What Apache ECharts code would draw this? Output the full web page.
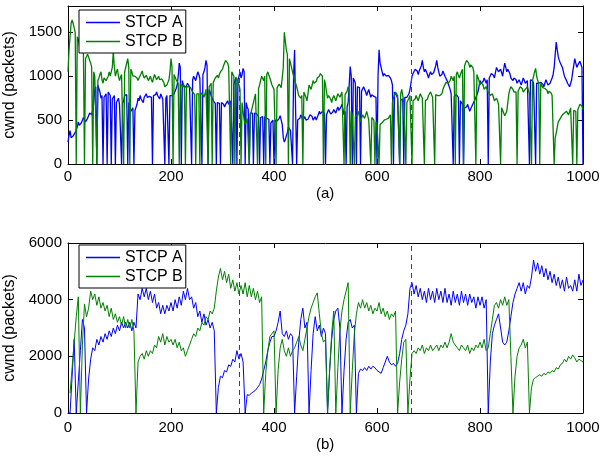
<!DOCTYPE html>
<html>
<head>
<meta charset="utf-8">
<script src="https://cdn.jsdelivr.net/npm/echarts@6/dist/echarts.min.js"></script>
<style>
html, body { margin: 0; padding: 0; background: #fff; }
#chart { width: 602px; height: 456px; }
</style>
</head>
<body>
<div id="chart"></div>
<script>
// sample spacing in time units: (a) every 2, (b) every 4, x = 0..1000
var stepTop = 2;
var stepBot = 4;
var names = ['STCP A', 'STCP B'];
var dashX = [333, 666];

// (a) cwnd, packets
var topA = [
  250,330,380,300,280,320,300,360,350,420, 480,440,420,470,480,530,520,480,500,520,
  540,580,600,560,620,700,850,880,0,900, 900,820,750,780,0,760,780,800,0,820,
  800,780,0,740,760,780,0,700,720,750, 680,700,0,690,720,780,800,790,0,700,
  650,600,620,640,0,610,600,680,750,720, 780,740,720,700,760,780,800,760,740,770,
  780,760,0,780,760,790,820,780,760,740, 800,770,740,760,0,750,780,790,0,780,
  800,780,760,800,820,860,900,1000,1150,1100, 0,950,900,870,850,890,920,900,880,900,
  0,960,1000,980,950,1000,1050,1020,980,1000, 0,1020,1050,1100,1180,1120,0,850,820,780,
  760,720,700,690,0,700,680,690,0,700, 720,680,650,680,700,720,680,700,720,700,
  0,900,950,980,0,960,1000,1050,980,1020, 1090,1050,0,700,650,620,0,580,600,580,
  0,580,600,570,550,540,0,530,520,540, 0,540,560,520,500,510,0,470,480,500,
  0,500,520,490,480,520,550,500,450,300, 250,280,300,360,420,400,380,400,0,1000,
  1300,600,0,500,480,520,560,530,500,520, 540,500,480,510,520,560,580,540,500,520,
  540,500,480,560,600,570,550,600,620,580, 0,560,580,620,600,570,550,590,620,600,
  580,620,650,610,600,650,680,620,560,600, 0,650,700,900,1110,1000,0,980,950,920,
  0,880,900,870,0,830,850,880,900,820, 780,820,850,800,760,790,800,770,780,760,
  0,1000,1300,1150,1100,1050,1000,1030,1050,1000, 980,1010,1020,980,950,900,0,820,800,780,
  750,740,0,730,720,740,0,760,780,760, 750,800,850,920,1000,1030,1050,1080,1100,1060,
  1020,1060,1080,1120,1180,1100,1050,1080,1100,1020, 980,1020,1050,1020,1000,1040,1080,1120,1180,1100,
  1050,1000,980,1020,1060,1030,1000,980,950,920, 900,850,800,780,0,770,760,790,780,760,
  0,720,700,680,0,640,620,650,680,640, 600,630,650,680,700,730,760,790,820,880,
  950,920,900,940,980,950,920,960,0,980, 1000,1030,1050,1010,980,1040,1100,1080,1050,1060,
  1080,1040,1000,1080,1150,1100,1050,1080,1100,1030, 980,960,950,980,1000,960,920,940,960,930,
  900,940,980,950,920,940,950,960,0,960, 980,950,920,930,0,920,940,920,900,930,
  950,910,880,920,960,930,900,910,920,950, 980,1020,1100,1250,1390,1300,1220,1180,1150,1130,
  1100,1050,1000,980,950,920,900,880,880,960, 1050,1120,1200,1150,1100,1130,1150,1170,1150,1100,
  0
];
var topB = [
  1050,1300,1450,1600,1640,1600,1580,1500,0,1450, 1420,1350,1280,1300,1320,1250,0,1200,1180,1250,
  1220,1180,1150,1100,0,1050,1000,980,0,950, 980,1020,1050,960,920,980,1000,950,960,1000,
  1050,1000,980,1100,1280,1100,1000,1050,1080,1000, 950,990,1020,1000,0,1050,1100,1150,1200,1100,
  0,1080,1050,1000,980,1000,1020,980,950,980, 1000,1030,1060,1010,980,990,1010,980,950,970,
  1000,960,930,980,1020,990,960,980,1000,960, 940,970,990,930,880,890,900,930,960,1050,
  1200,1100,0,1020,1000,960,940,920,0,920, 900,880,880,900,0,880,860,880,900,870,
  850,820,800,790,0,800,780,800,0,810, 820,790,760,800,850,870,0,880,900,920,
  0,930,950,980,1000,1010,980,1020,1050,1060, 1080,1120,1150,1180,1200,1150,1100,1080,0,1050,
  1030,1000,0,990,980,940,900,850,0,700, 600,500,450,480,520,540,0,560,600,650,
  700,750,800,820,0,860,900,950,1000,980, 950,1000,0,1020,1050,1010,980,940,900,880,
  850,860,0,870,880,910,900,870,850,1100, 1500,1400,1300,1250,0,1200,1150,1100,1050,1000,
  950,920,880,830,780,760,750,780,0,820, 800,760,720,800,900,880,850,900,950,920,
  900,940,980,960,1000,1030,1050,1000,0,960, 900,820,750,780,800,740,700,750,780,750,
  720,760,800,780,760,790,820,800,0,790, 780,830,880,850,0,600,560,540,0,540,
  520,560,600,540,480,520,560,540,520,560, 600,550,500,520,0,530,540,500,0,480,
  450,460,0,450,460,470,480,500,520,510, 500,520,540,560,0,700,750,790,820,800,
  780,760,0,800,850,780,700,720,0,700, 720,750,780,760,0,720,700,740,780,750,
  720,760,800,780,750,730,0,720,700,740, 780,800,820,790,760,780,0,790,800,780,
  800,780,760,800,850,880,900,930,950,920, 900,950,1000,980,950,1000,0,1020,1050,1010,
  980,1020,1050,1080,0,1120,1150,1180,1200,1150, 1100,1130,1150,1100,1050,1030,0,1020,1000,950,
  900,930,950,900,850,870,880,850,820,800, 780,790,800,760,720,740,750,720,680,660,
  0,640,620,580,550,570,600,700,800,850, 880,870,850,820,800,820,0,830,850,880,
  900,860,820,840,850,870,880,840,800,820, 0,950,1000,1050,1090,1000,950,920,0,920,
  900,870,850,860,880,840,800,830,850,810, 780,760,0,300,350,420,480,500,520,540,
  560,570,580,600,600,580,560,600,640,620, 0,610,620,600,0,620,650,680,700,660,
  620
];

// (b) cwnd, packets
var botA = [
  0,0,1300,2600,0,1100,2200,3300,3000,0,
  1200,1900,2300,2200,2600,2400,2700,2500,2800,2600,
  2900,2700,3000,2800,3100,2900,3200,3000,3200,3000,
  3200,2900,3200,3000,4200,4000,4400,4100,4400,4000,
  4300,3900,4200,3700,3900,3500,3800,3500,3800,3600,
  3900,3600,4000,3700,4100,3800,4300,4000,4400,4000,
  4100,3700,3900,3400,3600,3200,3500,3100,3300,3000,
  3200,2900,0,900,1300,1250,1500,1450,1700,1650,
  1900,1800,2200,1900,2100,1800,0,650,620,700,
  750,800,900,1000,1200,1500,1800,2200,2500,2700,
  2700,2900,3200,3600,2800,2700,2900,2600,2800,2700,
  0,1300,2500,3300,3700,3000,3200,0,1500,2800,
  3400,2900,3100,2700,3000,2800,0,1500,2600,3300,
  3600,3700,3000,0,1500,2600,3200,3300,3000,3100,
  0,1400,1550,1500,1600,1500,1650,1550,1650,1600,
  1500,1450,1400,1600,1800,2000,1800,1700,1750,1650,
  1750,2100,2600,2900,3100,3500,4400,4600,4200,4500,
  4100,4400,4000,4300,3900,4400,4000,4300,3900,4400,
  4000,4300,3900,4400,3900,4200,3800,4300,3900,4200,
  3800,4300,3900,4200,3800,4200,3900,4100,3700,4100,
  3800,4100,3700,4000,0,1800,2800,3100,3300,3500,
  3000,2500,2400,2500,2900,3400,3900,4200,4400,4600,
  4300,4600,4200,4500,4400,4800,5400,5000,5300,4900,
  5200,4800,5100,4700,5000,4600,4900,4500,4800,4400,
  4700,4300,4800,4400,4500,4300,4700,4300,4900,4500,
  4700
];
var botB = [
  null,700,1600,2500,3400,4100,0,2400,3850,3400,
  3700,4300,4000,4200,3800,4100,3700,3900,3600,3800,
  3400,3700,3300,3500,3200,3400,3100,3400,3000,3300,
  3000,3300,2900,0,1800,2000,2100,1900,2200,2000,
  2200,2100,2400,2300,2700,2500,2800,2400,2700,2500,
  2600,2400,2600,2300,2500,2200,2300,2000,2200,2400,
  2600,2800,2700,3000,2900,3200,3100,3400,3300,3600,
  3500,3700,4300,4800,5100,4700,5000,4600,4900,4400,
  4700,4300,4600,4200,4500,4200,4600,4100,4500,4100,
  4400,4000,4300,3900,4100,0,1400,2200,2700,2800,
  2900,0,1500,2300,2600,2200,2000,2300,2000,2200,
  2300,2500,2700,2400,2200,2600,3000,3400,3700,3900,
  4100,4240,3500,2800,2500,2600,0,1500,2800,3600,
  0,1600,2900,3600,4000,4300,4600,0,1500,2800,
  3500,3900,3700,4000,3700,3900,3600,3800,3500,3700,
  3600,3900,3500,3700,3400,3600,3300,3500,3400,3600,
  0,1100,1900,2500,2600,0,1200,2100,2200,2100,
  2300,2200,2400,2100,2300,2200,2400,2200,2300,2400,
  2200,2400,2300,2500,2300,2500,2800,2500,2400,2300,
  2200,2400,2300,2200,2400,2100,2300,2200,2400,2300,
  2500,2300,2600,2200,2300,2800,3300,3800,3900,3700,
  4000,3800,4100,3800,4000,2000,0,1300,2000,2300,
  2400,2600,2300,2500,0,900,1200,1250,1300,1350,
  1300,1400,1350,1450,1400,1500,1450,1600,1550,1700,
  1750,1900,1800,2000,1900,2050,1950,1800,1900,1850,
  1800
];

function toPairs(vals, step) {
  var out = [];
  for (var i = 0; i < vals.length; i++) out.push([i * step, vals[i]]);
  return out;
}

var font = "'Liberation Sans', Arial, Helvetica, sans-serif";
var blue = '#0000ff', green = '#008000';

function xAxes(grid, labelMargin) {
  var base = {
    gridIndex: grid, type: 'value', min: 0, max: 1000, interval: 200,
    axisLine: { show: true, onZero: false, lineStyle: { color: '#000', width: 1 } },
    axisTick: { show: true, inside: true, length: 5, lineStyle: { color: '#000' } },
    splitLine: { show: false }
  };
  var bottom = Object.assign({}, base, {
    position: 'bottom',
    axisLabel: { margin: labelMargin, color: '#000', fontSize: 15, fontFamily: font,
      formatter: function (v) { return String(v); } }
  });
  var top = Object.assign({}, base, { position: 'top', axisLabel: { show: false } });
  return [bottom, top];
}

function yAxes(grid, max, interval) {
  var base = {
    gridIndex: grid, type: 'value', min: 0, max: max, interval: interval,
    axisLine: { show: true, onZero: false, lineStyle: { color: '#000', width: 1 } },
    axisTick: { show: true, inside: true, length: 5, lineStyle: { color: '#000' } },
    splitLine: { show: false }
  };
  var left = Object.assign({}, base, {
    position: 'left',
    name: 'cwnd (packets)', nameLocation: 'middle', nameGap: 39,
    nameTextStyle: { color: '#000', fontSize: 16, fontFamily: font },
    axisLabel: { margin: 6, color: '#000', fontSize: 15, fontFamily: font,
      formatter: function (v) { return v % interval === 0 ? String(v) : ''; } }
  });
  var right = Object.assign({}, base, { position: 'right', axisLabel: { show: false } });
  return [left, right];
}

function dashLines() {
  return {
    symbol: 'none', silent: true, label: { show: false },
    lineStyle: { color: '#444', type: [5, 4], width: 1 },
    data: dashX.map(function (x) { return { xAxis: x }; })
  };
}

function line(name, color, data, step, xi, yi, width, withMark) {
  var s = {
    name: name, type: 'line', xAxisIndex: xi, yAxisIndex: yi,
    data: toPairs(data, step), showSymbol: false, symbol: 'none',
    lineStyle: { color: color, width: width }, itemStyle: { color: color },
    emphasis: { disabled: true }
  };
  if (withMark) s.markLine = dashLines();
  return s;
}

function legend(top) {
  return {
    data: names, orient: 'vertical', left: 79, top: top,
    backgroundColor: '#fff', borderColor: '#000', borderWidth: 1, borderRadius: 0,
    padding: [3, 3, 2, 7], itemGap: 0, itemWidth: 34, itemHeight: 1.5, itemTextGap: 4,
    icon: 'rect',
    textStyle: { color: '#000', fontSize: 16, fontFamily: font, lineHeight: 19 }
  };
}

var chart = echarts.init(document.getElementById('chart'));
chart.setOption({
  animation: false,
  backgroundColor: '#fff',
  grid: [
    { left: 68, right: 19, top: 6, bottom: 292, outerBoundsMode: 'none', containLabel: false },
    { left: 68, right: 19, top: 243, bottom: 43, outerBoundsMode: 'none', containLabel: false }
  ],
  xAxis: xAxes(0, 5).concat(xAxes(1, 7)),
  yAxis: yAxes(0, 1800, 500).concat(yAxes(1, 6000, 2000)),
  legend: [legend(10), legend(245)],
  graphic: [
    { type: 'text', left: 316, top: 186, style: { text: '(a)', fill: '#000', fontSize: 15, fontFamily: font } },
    { type: 'text', left: 316, top: 437, style: { text: '(b)', fill: '#000', fontSize: 15, fontFamily: font } }
  ],
  series: [
    line('STCP A', blue, topA, stepTop, 0, 0, 1.3, true),
    line('STCP B', green, topB, stepTop, 0, 0, 1.3, false),
    line('STCP A', blue, botA, stepBot, 2, 2, 1, true),
    line('STCP B', green, botB, stepBot, 2, 2, 1, false)
  ]
});
</script>
</body>
</html>
